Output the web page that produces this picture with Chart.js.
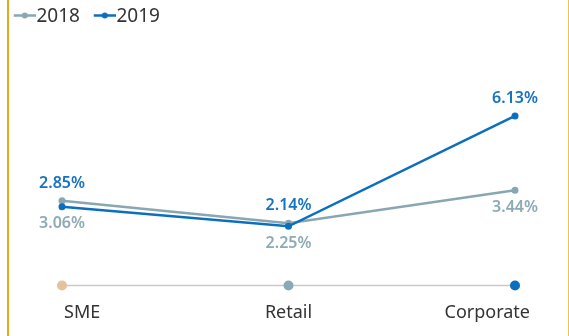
<!DOCTYPE html>
<html>
<head>
<meta charset="utf-8">
<script src="https://cdn.jsdelivr.net/npm/chart.js@4"></script>
<style>
  body { margin: 0; background: #fff; }
  #wrap { position: relative; width: 569px; height: 336px; overflow: hidden; }
  #wrap canvas { position: absolute; left: 0; top: 0; }
  .edge { position: absolute; top: 0; bottom: 0; }
  #edgeL { left: 7px; width: 2px; background: #e6a620; }
  #edgeR { left: 568px; width: 1px; background: #f1c24a; }
</style>
</head>
<body>
<div id="wrap">
  <div class="edge" id="edgeL"></div>
  <div class="edge" id="edgeR"></div>
  <canvas id="mycanvas" width="569" height="336"></canvas>
</div>
<script>
var categories = ["SME", "Retail", "Corporate"];
var rate2018 = [3.06, 2.25, 3.44];
var rate2019 = [2.85, 2.14, 6.13];
var baseValues = [0, 0, 0];

var grey = "#88a7b2";
var blue = "#0b6fbe";
var greyText = "#8eabb5";
var blueText = "#1673c1";
var baseDots = ["#e2c39b", "#8aa9b4", "#0a6fbf"];

// small line + dot marker for the legend
function legendMark(color)
{
    var c = document.createElement("canvas");
    c.width = 37;
    c.height = 10;
    var g = c.getContext("2d");
    g.strokeStyle = color;
    g.lineWidth = 2.5;
    g.beginPath();
    g.moveTo(15, 3.5);
    g.lineTo(37, 3.5);
    g.stroke();
    g.fillStyle = color;
    g.beginPath();
    g.arc(26, 3.5, 3, 0, Math.PI * 2);
    g.fill();
    return c;
}
var marks = [legendMark(grey), legendMark(blue)];

var valueLabels =
{
    id: "valueLabels",
    afterDatasetsDraw: function(chart)
    {
        var ctx = chart.ctx;
        var a = chart.getDatasetMeta(0).data;
        var b = chart.getDatasetMeta(1).data;
        var base = chart.getDatasetMeta(2).data;

        ctx.save();
        ctx.font = "600 16px 'Noto Sans'";
        ctx.textAlign = "center";
        ctx.textBaseline = "alphabetic";
        for (var i = 0; i < categories.length; i++)
        {
            var top = Math.min(a[i].y, b[i].y);
            var bottom = Math.max(a[i].y, b[i].y);
            ctx.fillStyle = blueText;
            ctx.fillText(rate2019[i].toFixed(2) + "%", b[i].x, top - 13);
            ctx.fillStyle = greyText;
            ctx.fillText(rate2018[i].toFixed(2) + "%", a[i].x, bottom + 21.5);
        }

        // category names under the base line
        ctx.font = "18px 'Noto Sans'";
        ctx.fillStyle = "#333";
        var aligns = ["left", "center", "right"];
        var shifts = [2, 0, 15];
        for (var j = 0; j < categories.length; j++)
        {
            ctx.textAlign = aligns[j];
            ctx.fillText(categories[j], base[j].x + shifts[j], base[j].y + 32.5);
        }
        ctx.restore();
    }
};

var chartdata =
{
    labels: categories,
    datasets:
    [{
        label: "2018",
        data: rate2018,
        borderColor: grey,
        backgroundColor: grey,
        borderWidth: 2.5,
        pointRadius: 3.5,
        pointBackgroundColor: grey,
        pointBorderWidth: 0,
        lineTension: 0,
        fill: false,
        clip: false,
        order: 1
    },
    {
        label: "2019",
        data: rate2019,
        borderColor: blue,
        backgroundColor: blue,
        borderWidth: 2.5,
        pointRadius: 3.5,
        pointBackgroundColor: blue,
        pointBorderWidth: 0,
        lineTension: 0,
        fill: false,
        clip: false,
        order: 0
    },
    {
        label: "base",
        data: baseValues,
        borderColor: "#c9c9c9",
        borderWidth: 1.5,
        pointRadius: 5,
        pointBackgroundColor: baseDots,
        pointBorderWidth: 0,
        fill: false,
        clip: false,
        order: 2
    }]
};

var ctx = document.getElementById("mycanvas");

var LineGraph = new Chart(ctx,
{
    type: "line",
    data: chartdata,
    plugins: [valueLabels],
    options:
    {
        responsive: false,
        animation: false,
        layout: { padding: { left: 0, right: 54, top: 0, bottom: 50.5 } },
        plugins:
        {
            tooltip: { enabled: false },
            legend:
            {
                position: "top",
                align: "start",
                labels:
                {
                    usePointStyle: true,
                    pointStyleWidth: 19.5,
                    boxHeight: 10,
                    padding: 7.5,
                    color: "#333",
                    font: { family: "Noto Sans", size: 19 },
                    generateLabels: function(chart)
                    {
                        var items = Chart.defaults.plugins.legend.labels.generateLabels(chart);
                        return items.filter(function(it) { return it.datasetIndex < 2; })
                            .sort(function(p, q) { return p.datasetIndex - q.datasetIndex; })
                            .map(function(it) { it.pointStyle = marks[it.datasetIndex]; return it; });
                    }
                }
            }
        },
        scales:
        {
            x:
            {
                display: false,
                offset: false
            },
            y:
            {
                min: 0,
                max: 9,
                grid: { display: false },
                border: { display: false },
                ticks: { display: false },
                afterFit: function(scale) { scale.width = 62; }
            }
        }
    }
});
</script>
</body>
</html>
